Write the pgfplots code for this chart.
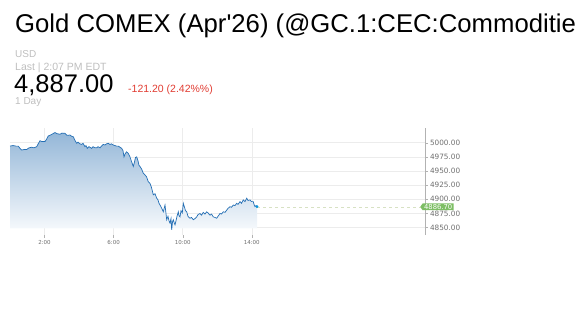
\documentclass[border=0pt]{standalone}
\usepackage{pgfplots}
\pgfplotsset{compat=1.18}
\usepackage{fontspec}
\setmainfont{Liberation Sans}
\newfontfamily\dejavu{DejaVu Sans}
\usetikzlibrary{shapes.symbols}
\definecolor{linec}{RGB}{35,110,180}
\definecolor{filltop}{RGB}{148,183,216}
\definecolor{fillbot}{RGB}{246,249,252}
\definecolor{gridc}{RGB}{236,236,236}
\definecolor{labc}{RGB}{190,190,190}
\definecolor{redc}{RGB}{225,60,50}
\definecolor{greenc}{RGB}{125,190,100}
\definecolor{dashc}{RGB}{215,225,195}
\definecolor{tickc}{RGB}{110,110,110}
\pgfplotstableread{
x y
10 4994
13 4995
16 4994
18.3 4994
20 4990
21.7 4987
24 4988
26.7 4988
29 4991
31.7 4992
34 4991
36.7 4993
38.5 4999
40 5003.5
42 5002
45 5002
46.5 5006
48.3 5012
51 5014
53 5016
55 5018
57 5016
60 5015
62 5017
65 5016.6
67 5013
70 5013.6
72 5011
73.3 5010.6
75 5004
76.7 4999
78 5001
80 4998
81.7 4997
83 4999
85 4993
86 4995
87.3 4990
89 4993
91.7 4990
93 4993
95 4991
96.7 4991
98 4993
100 4991
101.5 4994
103.3 4997
105 4996
106.5 4998
108.3 4999
110 4997
111.5 4998
113.3 4996
115 4995
116.5 4994
118.3 4994
120 4992
121.7 4990
123 4986
124 4975
125 4980
126.5 4984
128.3 4981
130 4975
131.7 4966
133.3 4958
134.5 4966
135.5 4974
136.7 4975
138 4968
139 4960
140 4958
141.5 4954
143.3 4946
145 4943
146.5 4940
148.3 4931
150 4928
151.5 4921
153.3 4908
155 4910
156.7 4902
158 4899
159 4893
160 4890
161.5 4885
163.3 4878
164 4883
165 4890
166 4875
166.7 4864
168 4870
169 4862
170 4858
171 4866
171.7 4846
172.5 4860
173.3 4864
174.3 4858
175 4855
176 4862
177 4870
178.3 4878
179 4871
180 4869
181 4880
182.3 4876
183.3 4893
184.5 4886
185.5 4880
186.7 4878
188 4870
189 4868
190 4866.6
191.5 4868
193.3 4864
195 4866
196.7 4869
198 4873
200 4875
201.5 4872
203.3 4877
205 4874
206.7 4878
208 4876
210 4872
211.5 4874
213.3 4869
215 4868
216.7 4866.6
218 4870
220 4875
221.5 4874
223.3 4878
225 4877
226.7 4881
228 4884
230 4887
231.5 4886
233.3 4890
235 4889
236.7 4893
238 4891
240 4896
241.5 4893
243.3 4899
245 4896
246.7 4902
248 4898
250 4899
251.5 4896
253.3 4896
254 4891
255 4887
256 4889
257 4887
}\gold
\begin{document}
\begin{tikzpicture}
\useasboundingbox (0,0) rectangle (576pt,-324pt);
\begin{scope}
\clip (0,0) rectangle (576pt,-324pt);
\node[anchor=base west, inner sep=0pt, font=\fontsize{25.7}{30}\selectfont] at (15pt,-32pt) {Gold COMEX (Apr\textquotesingle 26) (@GC.1:CEC:Commodities)};
\node[anchor=base west, inner sep=0pt, text=labc, font=\fontsize{10}{12}\selectfont] at (15pt,-57.5pt) {USD};
\node[anchor=base west, inner sep=0pt, text=labc, font=\fontsize{10.5}{12}\selectfont] at (15pt,-70.7pt) {Last | 2:07 PM EDT};
\node[anchor=base west, inner sep=0pt, font=\fontsize{25.5}{30}\selectfont] at (14pt,-92.5pt) {4,887.00};
\node[anchor=base west, inner sep=0pt, text=redc, font=\fontsize{10.5}{12}\selectfont] at (128pt,-92.5pt) {-121.20 (2.42\%\%)};
\node[anchor=base west, inner sep=0pt, text=labc, font=\fontsize{10}{12}\selectfont] at (15pt,-104.5pt) {1 Day};
\end{scope}
\begin{axis}[
  at={(10pt,-235pt)}, anchor=south west,
  width=415pt, height=107pt, scale only axis,
  xmin=10, xmax=425, ymin=4837, ymax=5026,
  axis x line*=bottom, axis y line*=right,
  x axis line style={draw=none},
  y axis line style={draw=gray!60},
  xtick={44.5,113.6,182.7,251.8},
  xticklabels={2:00,6:00,10:00,14:00},
  ytick={4850,4875,4900,4925,4950,4975,5000},
  yticklabels={4850.00,4875.00,4900.00,4925.00,4950.00,4975.00,5000.00},
  tick align=outside, major tick length=3pt,
  tick style={draw=gray!60, line width=0.4pt},
  xticklabel style={font=\dejavu\fontsize{5.5}{6}\selectfont, text=tickc, yshift=1pt},
  yticklabel style={font=\dejavu\fontsize{7.3}{8}\selectfont, text=tickc, xshift=-1.5pt},
  xmajorgrids, ymajorgrids,
  grid style={draw=gridc, line width=0.5pt},
  clip=false,
]
\addplot[draw=none, top color=filltop, bottom color=fillbot, forget plot] table[x=x,y=y]{\gold} |- (axis cs:10,4848.5) -- cycle;
\draw[dashc, dashed, line width=0.7pt] (axis cs:257,4886.7) -- (axis cs:425,4886.7);
\addplot[linec, line width=0.7pt, mark=none] table[x=x,y=y]{\gold};
\addplot[only marks, mark=*, mark size=1.2pt, color=cyan!80!blue] coordinates {(257,4887)};
\coordinate (lastp) at (axis cs:425,4886.7);
\end{axis}
\node[signal, signal to=west, signal pointer angle=110, fill=greenc, text=white, inner xsep=1.5pt, inner ysep=0.8pt, font=\dejavu\fontsize{6.8}{7}\selectfont, anchor=west] at ([xshift=-5pt]lastp) {4886.70};
\end{tikzpicture}
\end{document}
